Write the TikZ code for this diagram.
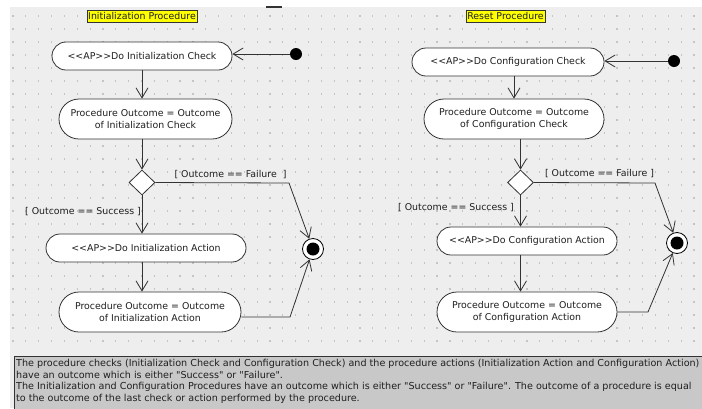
\documentclass[tikz,border=0pt]{standalone}
\usepackage{fontspec}
% family loaded without the TeX input mapping, so quotes stay straight
\newfontfamily\plainsans{DejaVu Sans}
\usetikzlibrary{arrows.meta,shapes.geometric}
\definecolor{canvas}{HTML}{EEEEEE}
\definecolor{griddot}{HTML}{C4C4C4}
\definecolor{ink}{HTML}{333333}
\definecolor{notefill}{HTML}{C8C8C8}
\definecolor{titlefill}{HTML}{FFFF00}
% stereotype brackets kept as plain angle brackets
\newcommand{\apmark}{<\kern0pt<AP>\kern0pt>}

\begin{document}
\begin{tikzpicture}[x=1pt,y=-1pt,
  every node/.style={font=\plainsans\fontsize{9.4}{12}\selectfont, text=black!88},
  action/.style={draw=ink, fill=white, line width=0.8pt, inner sep=0pt,
    align=center, minimum height=28pt, rounded corners=14pt},
  tallaction/.style={action, minimum height=40pt, rounded corners=20pt},
  decision/.style={shape=diamond, draw=ink, fill=white, line width=0.8pt,
    inner sep=0pt, minimum width=26pt, minimum height=25pt},
  startdot/.style={shape=circle, fill=black, inner sep=0pt, minimum size=12pt},
  enddot/.style={shape=circle, draw=black, fill=white, line width=0.8pt,
    inner sep=0pt, minimum size=21pt},
  titlebox/.style={draw=ink, fill=titlefill, line width=0.6pt, inner sep=1.2pt,
    minimum height=12pt},
  guard/.style={inner sep=0pt},
  noteline/.style={inner sep=0pt, anchor=base west, font=\plainsans\fontsize{9.6}{11.5}\selectfont},
  flow/.style={draw=ink, line width=0.8pt, -{Straight Barb[length=10pt,width=12pt]}}
]
\useasboundingbox (0,0) rectangle (702,408);

% canvas and dotted grid
\fill[white] (0,0) rectangle (702,408);
\fill[canvas] (10,7) rectangle (702,408);
\draw[ink, line width=1.2pt] (266,7) -- (282,7);
\foreach \i in {0,...,53}{
  \foreach \j in {0,...,25}{
    \fill[griddot] (13+12.85*\i-0.6, 16+13*\j-0.6) rectangle ++(1.2,1.2);
  }
}

% ---------- Initialization procedure ----------
\node[titlebox] (tL) at (142,16) {Initialization Procedure};
\node[startdot] (i1) at (296,54) {};
\node[action, minimum width=180pt] (A1) at (142,56) {\apmark Do Initialization Check};
\node[tallaction, minimum width=173pt] (A2) at (145.5,119) {Procedure Outcome = Outcome\\of Initialization Check};
\node[decision] (D1) at (142,182.5) {};
\node[action, minimum width=200pt] (A3) at (146,248) {\apmark Do Initialization Action};
\node[tallaction, minimum width=182pt] (A4) at (150,312) {Procedure Outcome = Outcome\\of Initialization Action};
\node[enddot] (F1) at (313,249) {};
\fill[black] (F1.center) circle (6.5);
\coordinate (fk1) at (289,183);
\coordinate (sk1) at (290,317);

\node[guard] (gF1) at (230.5,175) {[ Outcome == Failure\ \ ]};
\node[guard] (gS1) at (83,212) {[ Outcome == Success ]};

\draw[flow] (i1) -- (i1 -| A1.east);
\draw[flow] (A1.south) -- (A1.south |- A2.north);
\draw[flow] (D1 |- A2.south) -- (D1.north);
\draw[flow] (D1.south) -- (D1.south |- A3.north);
\draw[flow] (D1 |- A3.south) -- (D1 |- A4.north);
\draw[flow] (D1.east) -- (fk1) -- (F1);
\draw[flow] (A4.east |- sk1) -- (sk1) -- (F1);

% ---------- Reset procedure ----------
\node[titlebox] (tR) at (505.5,16) {Reset Procedure};
\node[startdot] (i2) at (674,61) {};
\node[action, minimum width=192pt] (B1) at (508,62) {\apmark Do Configuration Check};
\node[tallaction, minimum width=180pt] (B2) at (514,119) {Procedure Outcome = Outcome\\of Configuration Check};
\node[decision] (D2) at (520.5,182.5) {};
\node[action, minimum width=180pt] (B3) at (527,241) {\apmark Do Configuration Action};
\node[tallaction, minimum width=180pt] (B4) at (527,312) {Procedure Outcome = Outcome\\of Configuration Action};
\node[enddot] (F2) at (677,243) {};
\fill[black] (F2.center) circle (6.5);
\coordinate (fk2) at (655,183);
\coordinate (sk2) at (648,312);

\node[guard] (gF2) at (599.5,174) {[ Outcome == Failure ]};
\node[guard] (gS2) at (456,208) {[ Outcome == Success ]};

\draw[flow] (i2) -- (i2 -| B1.east);
\draw[flow] (B2.north |- B1.south) -- (B2.north);
\draw[flow] (D2 |- B2.south) -- (D2.north);
\draw[flow] (D2.south) -- (D2.south |- B3.north);
\draw[flow] (D2 |- B3.south) -- (D2 |- B4.north);
\draw[flow] (D2.east) -- (fk2) -- (F2);
\draw[flow] (B4.east) -- (sk2) -- (F2);

% ---------- note ----------
\draw[fill=notefill, draw=ink, line width=0.8pt] (14,356) rectangle (706,412);
\node[noteline] (n1) at (16,366.5) {The procedure checks (Initialization Check and Configuration Check) and the procedure actions (Initialization Action and Configuration Action)};
\node[noteline] (n2) at (16,378) {have an outcome which is either "Success" or "Failure".};
\node[noteline] (n3) at (16,389.5) {The Initialization and Configuration Procedures have an outcome which is either "Success" or "Failure". The outcome of a procedure is equal};
\node[noteline] (n4) at (16,401) {to the outcome of the last check or action performed by the procedure.};
\end{tikzpicture}
\end{document}
